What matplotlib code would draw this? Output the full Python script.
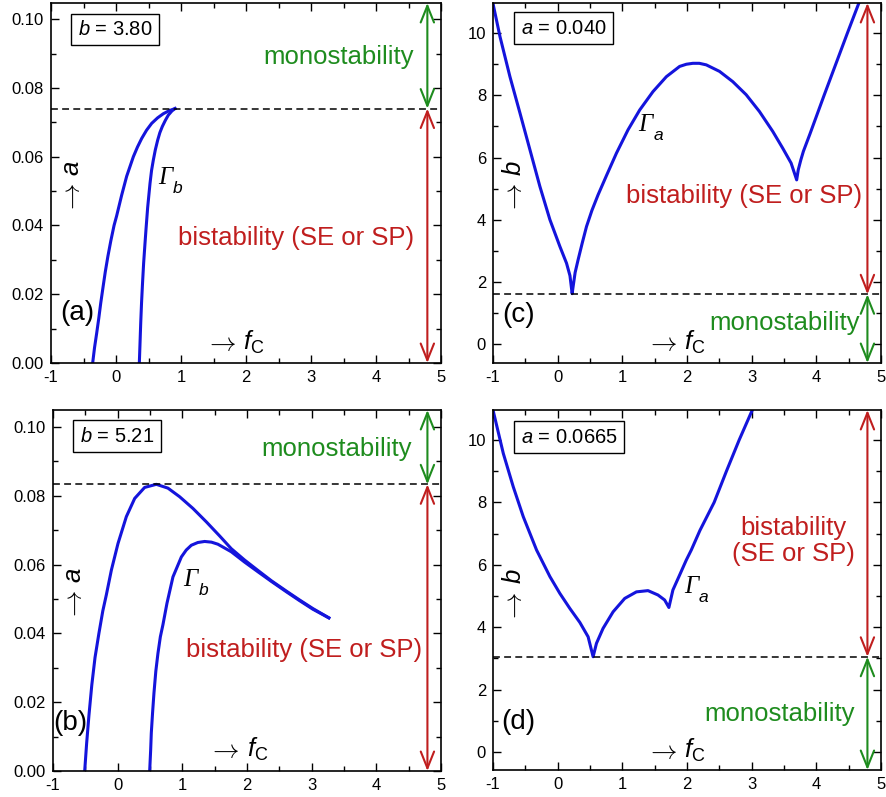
import matplotlib
matplotlib.use('Agg')
import matplotlib.pyplot as plt
from matplotlib.ticker import MultipleLocator, FormatStrFormatter

plt.rcParams['font.family'] = ['Liberation Sans', 'DejaVu Sans']
plt.rcParams['mathtext.fontset'] = 'custom'
plt.rcParams['mathtext.rm'] = 'Liberation Sans'
plt.rcParams['mathtext.it'] = 'Liberation Sans:italic'
plt.rcParams['axes.unicode_minus'] = False

# ---------------- data ----------------
# panel (a): b = 3.80
a_left_x = [-0.359, -0.33, -0.297, -0.265, -0.235, -0.2, -0.165, -0.125, -0.08, -0.03, 0.01,
            0.087, 0.164, 0.267, 0.33, 0.395, 0.47, 0.549, 0.64, 0.728, 0.82, 0.908]
a_left_y = [0.0, 0.0045, 0.0087, 0.013, 0.0174, 0.022, 0.0265, 0.031, 0.0355, 0.040, 0.0428,
            0.0488, 0.0543, 0.0600, 0.0628, 0.0653, 0.0677, 0.0697, 0.0713, 0.0725, 0.0734, 0.074]
a_right_x = [0.359, 0.37, 0.38, 0.393, 0.408, 0.425, 0.445, 0.462, 0.487, 0.523, 0.547,
             0.574, 0.605, 0.641, 0.675, 0.713, 0.76, 0.805, 0.86, 0.908]
a_right_y = [0.0, 0.006, 0.0115, 0.0175, 0.0232, 0.029, 0.0345, 0.039, 0.0452, 0.0522, 0.056,
             0.059, 0.062, 0.0648, 0.067, 0.0688, 0.0706, 0.0721, 0.0733, 0.074]
a_crit = 0.074

# panel (b): b = 5.21
b_outer_x = [-0.51, -0.48, -0.445, -0.40, -0.35, -0.29, -0.23, -0.175, -0.097, 0.005, 0.134,
             0.263, 0.417, 0.598, 0.777, 0.958, 1.164, 1.371, 1.577, 1.757, 1.963, 2.168,
             2.376, 2.607, 2.813, 3.019, 3.266]
b_outer_y = [0.0, 0.008, 0.016, 0.025, 0.033, 0.040, 0.0465, 0.0512, 0.0584, 0.0661, 0.0739,
             0.0792, 0.0824, 0.0833, 0.0822, 0.0797, 0.0763, 0.0724, 0.0683, 0.0646, 0.0613, 0.0583,
             0.0553, 0.0523, 0.0497, 0.0472, 0.0445]
b_inner_x = [0.495, 0.51, 0.52, 0.54, 0.561, 0.59, 0.623, 0.66, 0.70, 0.762, 0.855, 0.985,
             1.06, 1.139, 1.24, 1.345, 1.45, 1.55, 1.757, 1.963, 2.168, 2.376, 2.607, 2.813,
             3.019, 3.266]
b_inner_y = [0.0, 0.006, 0.011, 0.017, 0.0226, 0.029, 0.0342, 0.039, 0.0425, 0.0487, 0.0564, 0.0622,
             0.0642, 0.0656, 0.0664, 0.0667, 0.0665, 0.0659, 0.0637, 0.0607, 0.0579, 0.0551, 0.0521,
             0.0495, 0.047, 0.0445]
b_crit = 0.0833

# panel (c): a = 0.040
c_x = [-1.0, -0.892, -0.738, -0.583, -0.429, -0.275, -0.12, 0.034, 0.137, 0.19, 0.224,
       0.239, 0.27, 0.316, 0.38, 0.446, 0.53, 0.625, 0.755, 0.909, 1.088, 1.269, 1.474,
       1.681, 1.886, 1.99, 2.091, 2.19, 2.298, 2.503, 2.708, 2.915, 3.12, 3.326, 3.48, 3.61, 3.696,
       3.72, 3.76, 3.8, 3.9, 4.12, 4.30, 4.48, 4.66]
c_y = [10.95, 9.89, 8.6, 7.43, 6.25, 5.07, 4.0, 3.14, 2.6, 2.2, 1.62,
       1.85, 2.3, 2.71, 3.25, 3.78, 4.3, 4.8, 5.42, 6.14, 6.89, 7.53, 8.12,
       8.6, 8.93, 9.0, 9.03, 9.03, 8.98, 8.77, 8.44, 8.02, 7.48, 6.84, 6.3, 5.82, 5.28,
       5.6, 5.92, 6.2, 6.75, 8.0, 9.0, 10.0, 10.98]
c_crit = 1.6

# panel (d): a = 0.0665
d_x = [-1.0, -0.841, -0.687, -0.532, -0.326, -0.12, 0.034, 0.188, 0.343, 0.471, 0.548,
       0.6, 0.702, 0.857, 1.037, 1.218, 1.397, 1.551, 1.654, 1.72,
       1.782, 1.886, 1.989, 2.066, 2.2, 2.42, 2.61, 2.807, 3.01]
d_y = [10.96, 9.57, 8.5, 7.54, 6.47, 5.62, 5.08, 4.6, 4.15, 3.69, 3.05,
       3.48, 3.96, 4.49, 4.92, 5.13, 5.17, 5.03, 4.87, 4.63,
       5.19, 5.67, 6.15, 6.47, 7.1, 8.0, 9.0, 10.0, 10.96]
d_crit = 3.05

x_ticks = [-1, 0, 1, 2, 3, 4, 5]

# ---------------- styles ----------------
BLUE = '#1414dc'
GREEN = '#1e8c1e'
RED = '#c01e1e'
BIG = 18.5
LW = 2.2

fig = plt.figure(figsize=(8.86, 7.97), dpi=100)
ax_a = fig.add_axes([51/886, 1-363/797, 390/886, 360/797])
ax_c = fig.add_axes([493/886, 1-363/797, 388/886, 360/797])
ax_b = fig.add_axes([53/886, 1-771/797, 388/886, 361/797])
ax_d = fig.add_axes([493/886, 1-770/797, 388/886, 360/797])


def style(ax, ylim, ymaj, ymin, fmt):
    ax.set_xlim(-1, 5)
    ax.set_ylim(*ylim)
    ax.set_xticks(x_ticks)
    ax.xaxis.set_minor_locator(MultipleLocator(0.5))
    ax.yaxis.set_major_locator(MultipleLocator(ymaj))
    ax.yaxis.set_minor_locator(MultipleLocator(ymin))
    ax.yaxis.set_major_formatter(FormatStrFormatter(fmt))
    ax.tick_params(which='both', direction='in', top=True, right=True, labelsize=12, pad=5, width=1.0)
    ax.tick_params(which='major', length=6)
    ax.tick_params(which='minor', length=3.5)
    for s in ax.spines.values():
        s.set_linewidth(1.2)


def arrows(ax, xa, top, crit, bottom, upper_col, lower_col):
    ap = dict(arrowstyle='<->,head_length=0.8,head_width=0.32', lw=1.5,
              mutation_scale=15, shrinkA=0, shrinkB=0)
    ax.annotate('', xy=(xa, top), xytext=(xa, crit), arrowprops=dict(color=upper_col, **ap))
    ax.annotate('', xy=(xa, crit), xytext=(xa, bottom), arrowprops=dict(color=lower_col, **ap))


def gamma(ax, x, y, sub):
    ax.text(x, y, 'Γ', family=['Liberation Serif'], style='italic', fontsize=18,
            ha='center', va='center')
    ax.annotate(sub, xy=(x, y), xytext=(5.5, -11), textcoords='offset points', style='italic',
                fontsize=12.5, ha='left', va='baseline')


def xlabel_arrow(ax, x, y):
    ax.annotate(r'$\rightarrow$', xy=(x, y), xytext=(-2.5, 0), textcoords='offset points',
                math_fontfamily='cm', fontsize=19, ha='right', va='baseline')
    ax.annotate(r'$f_{\mathrm{C}}$', xy=(x, y), xytext=(2.5, 0), textcoords='offset points',
                fontsize=BIG, ha='left', va='baseline')


def ylabel_arrow(ax, x, y, sym):
    ax.annotate(r'$\rightarrow$', xy=(x, y), xytext=(0, -2), textcoords='offset points',
                math_fontfamily='cm', fontsize=19, ha='right', va='baseline',
                rotation=90, rotation_mode='anchor')
    ax.annotate('$' + sym + '$', xy=(x, y), xytext=(0, 3), textcoords='offset points',
                fontsize=BIG, ha='left', va='baseline', rotation=90, rotation_mode='anchor')


def common(ax, panel_lbl, lx, ly, box, bx, by):
    ax.text(lx, ly, panel_lbl, fontsize=20, ha='center', va='center')
    ax.text(bx, by, box, fontsize=14.5, ha='center', va='center',
            bbox=dict(boxstyle='square,pad=0.32', fc='white', ec='black', lw=1.0))


# ---- (a)
ax = ax_a
style(ax, (0, 0.1047), 0.02, 0.01, '%.2f')
ax.plot(a_left_x, a_left_y, color=BLUE, lw=LW)
ax.plot(a_right_x, a_right_y, color=BLUE, lw=LW)
ax.axhline(a_crit, color='black', lw=1.1, dashes=(4.5, 2.8))
arrows(ax, 4.79, 0.1047, a_crit, 0.0, GREEN, RED)
ax.text(3.43, 0.089, 'monostability', color=GREEN, fontsize=BIG, ha='center', va='center')
ax.text(2.77, 0.0363, 'bistability (SE or SP)', color=RED, fontsize=BIG, ha='center', va='center')
gamma(ax, 0.754, 0.0538, 'b')
common(ax, '(a)', -0.6, 0.0145, '$b$ = 3.80', -0.015, 0.097)
xlabel_arrow(ax, 1.908, 0.0038)
ylabel_arrow(ax, -0.565, 0.0532, 'a')

# ---- (b)
ax = ax_b
style(ax, (0, 0.1049), 0.02, 0.01, '%.2f')
ax.plot(b_outer_x, b_outer_y, color=BLUE, lw=LW)
ax.plot(b_inner_x, b_inner_y, color=BLUE, lw=LW)
ax.axhline(b_crit, color='black', lw=1.1, dashes=(4.5, 2.8))
arrows(ax, 4.79, 0.1049, b_crit, 0.0, GREEN, RED)
ax.text(3.385, 0.0935, 'monostability', color=GREEN, fontsize=BIG, ha='center', va='center')
ax.text(2.875, 0.0351, 'bistability (SE or SP)', color=RED, fontsize=BIG, ha='center', va='center')
gamma(ax, 1.13, 0.0555, 'b')
common(ax, '(b)', -0.74, 0.0139, '$b$ = 5.21', -0.01, 0.0973)
xlabel_arrow(ax, 1.94, 0.0042)
ylabel_arrow(ax, -0.572, 0.0535, 'a')

# ---- (c)
ax = ax_c
style(ax, (-0.61, 10.97), 2, 1, '%d')
ax.plot(c_x, c_y, color=BLUE, lw=LW)
ax.axhline(c_crit, color='black', lw=1.1, dashes=(4.5, 2.8))
arrows(ax, 4.79, 10.97, c_crit, -0.61, RED, GREEN)
ax.text(3.51, 0.68, 'monostability', color=GREEN, fontsize=BIG, ha='center', va='center')
ax.text(2.88, 4.75, 'bistability (SE or SP)', color=RED, fontsize=BIG, ha='center', va='center')
gamma(ax, 1.36, 7.05, 'a')
common(ax, '(c)', -0.61, 0.94, '$a$ = 0.040', 0.09, 10.16)
xlabel_arrow(ax, 1.90, -0.18)
ylabel_arrow(ax, -0.563, 5.28, 'b')

# ---- (d)
ax = ax_d
style(ax, (-0.58, 10.96), 2, 1, '%d')
ax.plot(d_x, d_y, color=BLUE, lw=LW)
ax.axhline(d_crit, color='black', lw=1.1, dashes=(4.5, 2.8))
arrows(ax, 4.79, 10.96, d_crit, -0.58, RED, GREEN)
ax.text(3.645, 6.76, 'bistability\n(SE or SP)', color=RED, fontsize=BIG, ha='center', va='center',
        linespacing=1.15)
ax.text(3.43, 1.23, 'monostability', color=GREEN, fontsize=BIG, ha='center', va='center')
gamma(ax, 2.06, 5.3, 'a')
common(ax, '(d)', -0.61, 0.96, '$a$ = 0.0665', 0.18, 10.09)
xlabel_arrow(ax, 1.906, -0.18)
ylabel_arrow(ax, -0.563, 5.24, 'b')

fig.savefig('out.png', dpi=100)
